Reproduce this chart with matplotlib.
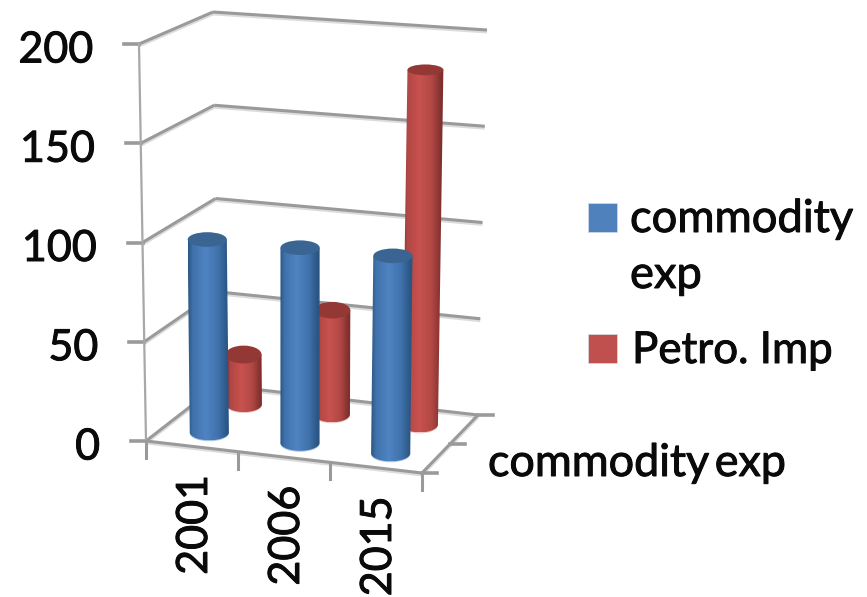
import matplotlib
matplotlib.use("Agg")
import matplotlib.pyplot as plt
import matplotlib.patheffects as pe
import numpy as np
from matplotlib.colors import LinearSegmentedColormap
from matplotlib.patches import Ellipse, PathPatch, Rectangle
from matplotlib.path import Path

plt.rcParams["font.family"] = ["Lato", "DejaVu Sans"]

years = ["2001", "2006", "2015"]
commodity_exp = [98, 98, 98]
petro_imp = [26, 54, 182]
value_ticks = [0, 50, 100, 150, 200]
series_label = "commodity\u2009exp"
legend_labels = ["commodity", "exp", "Petro. Imp"]

VALUE_MAX = 200.0
# screen position of the plot box corners, (category, depth, value)
CORNERS = {
    (0, 0, 0): (146, 441), (1, 0, 0): (422, 473),
    (0, 1, 0): (218, 385), (1, 1, 0): (478, 415),
    (0, 0, 1): (139, 44), (1, 0, 1): (428, 61),
    (0, 1, 1): (213, 12), (1, 1, 1): (487, 30),
}
LINE = "#9a9a9a"
SHADOW = "#dcdcdc"
TEXT = "#0a0a0a"
# slight stroke so the labels carry the same weight as the heavy axis text
HEAVY = [pe.withStroke(linewidth=0.7, foreground=TEXT)]


def project(cat, depth, value):
    """Trilinear map from box coordinates to screen pixels."""
    v = value / VALUE_MAX
    x, y = 0.0, 0.0
    for (a, b, c), (px, py) in CORNERS.items():
        w = (cat if a else 1 - cat) * (depth if b else 1 - depth) * (v if c else 1 - v)
        x += w * px
        y += w * py
    return x, y


def box_line(ax, p0, p1, lw=2.2):
    xs = [p0[0], p1[0]]
    ys = [p0[1], p1[1]]
    ax.plot(xs, [y + 1.5 for y in ys], color=SHADOW, lw=lw + 0.6, solid_capstyle="butt", zorder=1)
    ax.plot(xs, ys, color=LINE, lw=lw, solid_capstyle="butt", zorder=1.1)


def label(ax, x, y, s, **kw):
    ax.text(x, y, s, fontsize=kw.pop("fontsize", 31), color=TEXT, path_effects=HEAVY, **kw)


def cylinder(ax, cat, depth, value, half_width, dark, mid, light, top_col, lip_col, order):
    cx0, cy0 = project(cat, depth, 0)
    cx1, cy1 = project(cat, depth, value)
    left = project(cat - half_width, depth, 0)
    right = project(cat + half_width, depth, 0)
    rx = (right[0] - left[0]) / 2
    ry0 = 8.0
    ry1 = 9.5 - 4.5 * value / VALUE_MAX

    # soft rim under the base
    ax.add_patch(Ellipse((cx0, cy0 + 1), 2 * rx, 2 * ry0, color=lip_col, lw=0, zorder=order))

    # side wall, left and right edges joined by the lower half of the base
    t = np.linspace(np.pi, 0, 40)
    base = np.c_[cx0 + rx * np.cos(t), cy0 + ry0 * np.sin(t)]
    verts = np.vstack([[(cx1 - rx, cy1)], base, [(cx1 + rx, cy1)], [(cx1 - rx, cy1)]])
    codes = [Path.MOVETO] + [Path.LINETO] * (len(verts) - 2) + [Path.CLOSEPOLY]
    clip = PathPatch(Path(verts, codes), fc="none", ec="none", transform=ax.transData)
    ax.add_patch(clip)
    cmap = LinearSegmentedColormap.from_list(
        "side", [(0, dark), (0.12, mid), (0.42, light), (0.72, mid), (0.94, dark), (1, dark)]
    )
    img = ax.imshow(
        np.linspace(0, 1, 128)[None, :], cmap=cmap, aspect="auto",
        extent=(min(cx0, cx1) - rx, max(cx0, cx1) + rx, cy0 + ry0, cy1),
        zorder=order + 0.1,
    )
    img.set_clip_path(clip)

    # lid
    ax.add_patch(Ellipse((cx1, cy1), 2 * rx, 2 * ry1, color=top_col, lw=0, zorder=order + 0.2))


fig = plt.figure(figsize=(8.67, 5.97), dpi=100)
ax = fig.add_axes([0, 0, 1, 1])

# walls: one polyline per gridline, front-left to back-left to back-right
for val in value_ticks:
    fl = project(0, 0, val)
    bl = project(0, 1, val)
    br = project(1, 1, val)
    box_line(ax, fl, bl)
    box_line(ax, bl, br)
    ax.plot([fl[0] - 15, fl[0]], [fl[1], fl[1]], color=LINE, lw=2.6, zorder=1.2)
    label(ax, fl[0] - 46, fl[1] + 18.5, str(val), ha="right", va="baseline")

# floor and value axis
box_line(ax, project(0, 0, 0), project(1, 0, 0))
box_line(ax, project(1, 0, 0), project(1, 1, 0))
ax.plot(*zip(project(0, 0, 0), project(0, 0, 200)), color="#a8a8a8", lw=1.6, zorder=1.2)

# category ticks along the front edge
n = len(years)
for i in range(n + 1):
    x, y = project(i / n, 0, 0)
    ax.plot([x, x], [y, y + 17], color=LINE, lw=2.2, zorder=1.2)

# depth ticks along the right edge
for d in (0, 0.5, 1):
    x, y = project(1, d, 0)
    ax.plot([x, x + 15], [y, y], color=LINE, lw=2.6, zorder=1.2)

for i, year in enumerate(years):
    x, y = project((i + 0.5) / n, 0, 0)
    label(ax, x + 3, y + 29, year, rotation=90, ha="center", va="top")

label(ax, 488, 476, series_label, ha="left", va="baseline", fontsize=32.3)

# far row first so the near cylinders overlap it
for i, val in enumerate(petro_imp):
    cylinder(ax, (i + 0.5) / n, 0.75, val, 0.068, "#7f2f2d", "#b04744", "#c9524f", "#943836", "#eec9c7", 3 + i)
for i, val in enumerate(commodity_exp):
    cylinder(ax, (i + 0.5) / n, 0.25, val, 0.072, "#2a5684", "#4072ac", "#4f83c2", "#3a6593", "#a9c4e4", 7 + i)

# legend
for top, col in zip((203, 334), ("#4f81bd", "#c0504d")):
    ax.add_patch(Rectangle((588, top), 29, 29, fc=col, ec="#d5dde8", lw=0.5, zorder=5))
label(ax, 630, 232, legend_labels[0], va="baseline", fontsize=32.6)
label(ax, 630, 288, legend_labels[1], va="baseline", fontsize=32.6)
label(ax, 632, 363, legend_labels[2], va="baseline", fontsize=31.6)

ax.set_xlim(0, 867)
ax.set_ylim(597, 0)
ax.axis("off")
fig.savefig("out.png", dpi=100)
